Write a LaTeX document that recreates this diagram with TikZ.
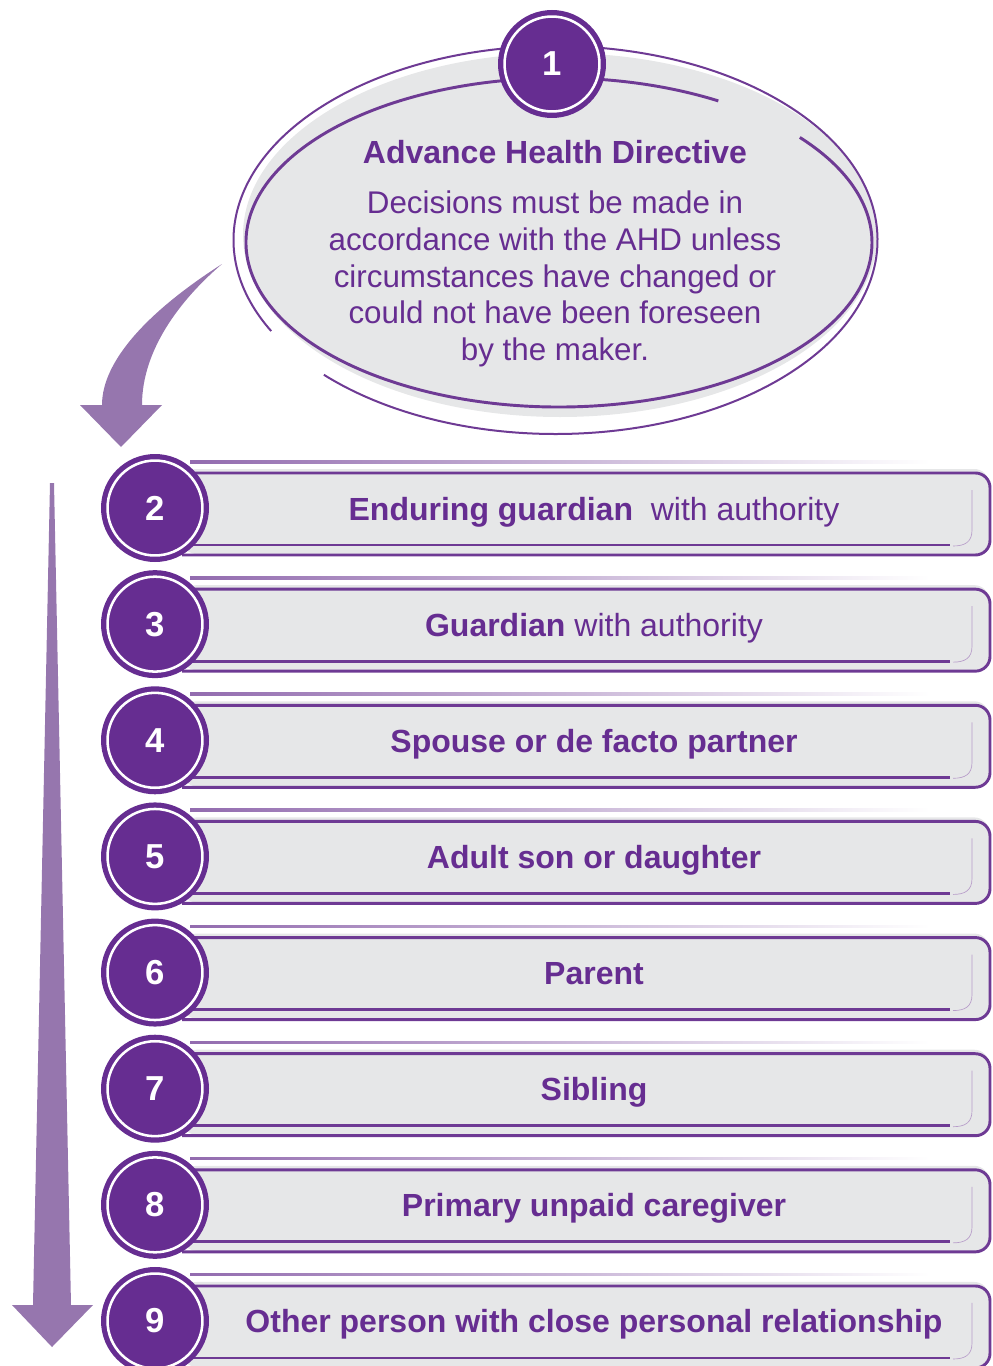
\documentclass[tikz,border=0pt]{standalone}
\usepackage{fontspec}
\setmainfont{Liberation Sans}
\definecolor{ahdpurple}{HTML}{662D91}
\definecolor{ahdline}{HTML}{6E3A94}
\definecolor{ahdarrow}{HTML}{9676AE}
\definecolor{ahdgrey}{HTML}{E6E7E8}
\begin{document}
\begin{tikzpicture}[x=0.75pt,y=-0.75pt,
    numdisc/.style={circle,fill=ahdpurple,minimum size=81pt,inner sep=0pt,
        text=white,font=\bfseries\fontsize{26}{26}\selectfont},
    ring/.style={white,line width=1.9pt},
    barline/.style={ahdline,line width=2.2pt},
    rowtext/.style={text=ahdpurple,anchor=base,font=\fontsize{24}{28}\selectfont}]
    \useasboundingbox (0,0) rectangle (992,1366);

    % the directive bubble
    \fill[ahdgrey] (560,235) ellipse [x radius=317, y radius=182];
    \draw[ahdline,line width=1.5pt] (555.5,240) ++(-224:322 and 194)
        arc[start angle=-224, end angle=-568, x radius=322, y radius=194];
    \draw[ahdline,line width=2.2pt] (559,242.5) ++(-59.4:313 and 164.5)
        arc[start angle=-59.4, end angle=-399.7, x radius=313, y radius=164.5];
    \node[numdisc] (num1) at (552,64) {1};
    \draw[ring] (num1.center) circle (35.6pt);
    \node[text=ahdpurple,anchor=base,font=\bfseries\fontsize{24}{28}\selectfont]
        (title) at (555,163) {Advance Health Directive};
    \node[text=ahdpurple,align=center,font=\fontsize{23.5}{27.6}\selectfont]
        (body) at (555,279) {Decisions must be made in\\accordance with the AHD unless\\
        circumstances have changed or\\could not have been foreseen\\by the maker.};

    % arrows
    \fill[ahdarrow] (222,264) .. controls (150,310) and (102,360) .. (102,405)
        -- (80,405) -- (121,447) -- (162,405) -- (142,405)
        .. controls (142,350) and (180,300) .. (222,264) -- cycle;
    \fill[ahdarrow] (50,483) -- (54,483) -- (71,1305) -- (93,1305) -- (52,1347)
        -- (12,1305) -- (33,1305) -- cycle;

    % the order of decision makers
    \foreach \n/\lbl [evaluate=\n as \y using {508+(\n-2)*116.14}] in
        {2/{\textbf{Enduring guardian}\ \ with authority},
         3/{\textbf{Guardian} with authority},
         4/{\textbf{Spouse or de facto partner}},
         5/{\textbf{Adult son or daughter}},
         6/{\textbf{Parent}},
         7/{\textbf{Sibling}},
         8/{\textbf{Primary unpaid caregiver}},
         9/{\textbf{Other person with close personal relationship}}}
    {
        \fill[ahdgrey,rounded corners=11pt] (182,\y-39) rectangle (989,\y+46);
        \shade[left color=ahdline!75,right color=white] (190,\y-47.5) rectangle (930,\y-45);
        \draw[barline,rounded corners=11pt] (182,\y-35) -- (990,\y-35) -- (990,\y+47) -- (182,\y+47);
        \draw[barline] (182,\y+37) -- (950,\y+37);
        \draw[ahdline!50,line width=0.5pt] (972,\y-18) -- (972,\y+22)
            .. controls (972,\y+34) and (965,\y+38) .. (953,\y+38);
        \node[numdisc] (num\n) at (155,\y) {\n};
        \draw[ring] (num\n.center) circle (35.6pt);
        \node[rowtext] (row\n) at (594,\y+12) {\lbl};
    }
\end{tikzpicture}
\end{document}
